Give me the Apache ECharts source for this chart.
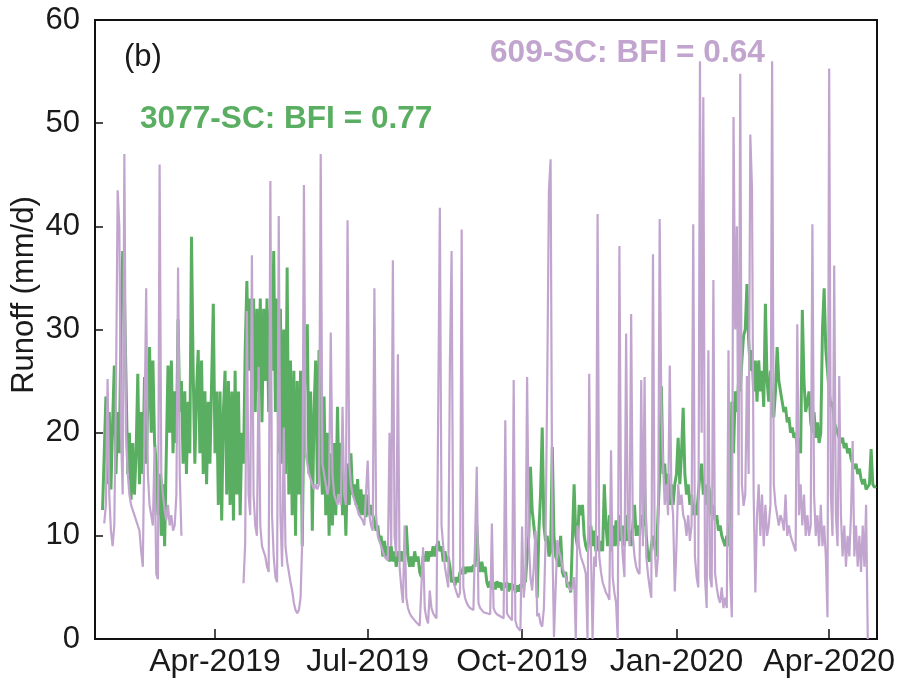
<!DOCTYPE html>
<html>
<head>
<meta charset="utf-8">
<script src="https://cdn.jsdelivr.net/npm/echarts@6.0.0/dist/echarts.min.js"></script>
<style>
  html, body { margin: 0; padding: 0; background: #fff; }
  #Runoff { width: 899px; height: 679px; }
</style>
</head>
<body>
<div id="Runoff"></div>
<script>
// daily runoff (mm/d), day 0 = 24 Jan 2019
let startDay = [2019, 0, 24];

let green3077 = [
  12.5, 18, 23.5, 15, 22, 14.5, 21, 26.5, 16, 22,
  18, 30, 37.6, 33.8, 25, 16, 20, 13.5, 19, 14,
  18, 25.7, 15, 22, 16, 25.4, 17, 23, 28.3, 20,
  27, 19, 17, 12, 16, 10, 15, 9, 18, 26.5,
  20, 27, 18, 24, 19, 31, 22, 25, 17, 24,
  16, 23, 18, 39, 26, 17, 24, 28, 18, 27,
  16, 24, 15, 23, 17, 25, 32.5, 18, 24, 13,
  24, 11.5, 22, 26, 14, 25, 13, 24, 11.5, 26,
  14, 24, 12, 20, 17, 28, 34.7, 26, 33, 25,
  33, 22, 32, 24, 33, 21, 32, 25, 33, 22,
  32, 26, 37.6, 22, 33, 18, 32, 17, 30, 16,
  36, 14, 27, 12, 26, 10, 25, 14, 26, 9,
  22, 27, 30.5, 16, 24, 10.5, 22, 27, 15, 28,
  18, 14, 23.5, 12, 20, 10, 18, 11, 19, 12,
  22.5, 14, 19, 12, 16, 10, 17, 13, 18, 14,
  15, 13, 15.5, 12, 14.5, 12, 14, 11.8, 14, 12,
  13, 12, 11.5, 10.5, 11, 9.5, 10, 8, 9.5, 8,
  9, 7.5, 9, 7.5, 8.5, 7, 8.5, 7.5, 8.5, 7.5,
  8, 11, 8, 7, 8, 7, 8.5, 7.5, 8, 6.5,
  6, 8, 7.5, 8.5, 7.5, 8.5, 8, 9, 8, 9,
  9.5, 8.5, 9, 7.5, 8.5, 7.5, 8, 7, 5.5, 6,
  5.2, 6, 5.5, 6.5, 6.3, 7, 6.3, 7, 6.5, 7,
  6.5, 7.2, 7, 11, 7.5, 6.5, 7.5, 6.5, 7, 5.5,
  5, 5.6, 4.8, 5.5, 4.8, 5.6, 5, 5.5, 4.7, 5.4,
  5, 5.5, 4.6, 5.4, 4.8, 5.3, 4.5, 5.2, 4.6, 5.3,
  5, 6, 5.5, 8, 10, 16.7, 12.5, 11, 9.5, 4,
  10.4, 14, 20.5, 11, 9.5, 10, 8, 8.5, 18.6, 10,
  8, 7.5, 7, 10, 6.5, 6, 6.5, 5, 5.5, 4.5,
  4.4, 15, 10, 9, 13, 12, 13, 10, 9, 8.5,
  10, 11, 9, 10.5, 8.5, 10, 8.5, 9.5, 8.5, 15,
  11, 9, 12, 8.5, 11, 9, 11.5, 9, 12, 9.5,
  11, 9, 12, 9.5, 10.5, 9, 11, 13, 10, 11,
  10, 12, 11, 14.5, 10, 8, 7.5, 9, 10, 9,
  8, 12, 16, 24.5, 16, 17, 14, 16, 13, 15,
  13, 15, 16, 19.5, 15, 18, 22.4, 16, 14, 15,
  13, 14, 12, 13, 12, 14, 16, 17, 14, 15,
  13, 15, 14, 12, 13, 11.5, 12, 10.5, 11, 10,
  9.5, 9, 10, 9, 12, 23, 18, 24, 22, 25,
  24, 27, 29.4, 30, 34.4, 29, 26, 28, 24, 27,
  23, 27, 24, 26, 22.5, 32.5, 25, 23, 26, 22,
  21.5, 24, 28.3, 25, 24, 23, 22, 22.5, 21, 21.5,
  20, 20.5, 19.5, 20, 18.5, 19.5, 18, 31.9, 25, 22,
  22, 24, 21, 20, 22, 19.5, 21, 19, 20, 30,
  34, 28, 26, 24, 22.5, 23, 21, 20.5, 20, 20,
  19, 19.5, 18.5, 19, 18, 18.5, 17.5, 17.5, 16.5, 17,
  16, 16.5, 15.5, 15, 15.5, 14.5, 14.5, 15, 18.4, 15,
  14.7, 14.8
];

let purple609 = [
  null, 11.2, 13, 25.2, 14, 10.5, 9, 11, 24, 43.5,
  40, 20, 14, 47, 20, 16, 14, 13, 12.5, 12,
  11.5, 11, 10.5, 8.5, 7, 7, 34, 16, 13, 12,
  11, 18.6, 6.3, 5.8, 46, 16, 14, 12.5, 11.5, 13,
  11, 12, 10.5, 11, 14, 36, 16, 10, null, null,
  null, null, null, null, null, null, null, null, null, null,
  null, null, null, null, null, null, null, null, null, null,
  null, null, null, null, null, null, null, null, null, null,
  null, null, null, null, 5.4, 9.3, 31.8, 14, 12, 37.2,
  14, 11, 10, 26.4, 11, 9, 8.5, 8, 7, 6.5,
  44.4, 12, 8, 6, 5.5, 41, 12, 7, 20.5, 9,
  7.5, 6.5, 5.5, 4.7, 3.5, 2.8, 2.5, 2.8, 4, 9.6,
  44, 18, 17, 16, 15.5, 15, 14.5, 15, 14.5, 15,
  47, 17, 16, 15, 14, 15, 29.7, 16, 14, 13.5,
  13, 14, 13, 22.5, 14, 13, 40.6, 17, 15, 14,
  13.5, 13, 12.5, 12, 12, 11.5, 11, 11, 17.3, 12,
  11, 10.5, 34, 12, 10, 9.5, 9, 8.5, 8, 8,
  7.6, 20, 9, 36.7, 10, 8, 27.6, 7, 5, 3.5,
  11, 4, 3, 2.5, 2.2, 2, 1.8, 1.6, 1.5, 1.3,
  1.3, 8.9, 3, 2, 1.5, 4.7, 3, 2.5, 2.2, 2,
  2, 41.8, 11, 9, 7, 6, 5, 27, 37.6, 6,
  5, 4.5, 4, 4.5, 39.7, 5, 4, 3.5, 3.2, 3,
  3, 2.8, 2.8, 16.7, 3.5, 3, 2.8, 2.6, 2.5, 2.5,
  2.5, 2.4, 11.2, 3, 2.6, 2.4, 2.3, 2.2, 2.2, 2,
  21.2, 2.5, 2.2, 2, 1.8, 25.1, 1.8, 1.2, 1, 0.8,
  10.9, 4, 6, 25.4, 9.6, 6, 4.7, 7, 10.5, 2.2,
  2.5, 1.5, 1.2, 3, 9.6, 25, 43.5, 46.5, 10, 0.2,
  0.3, 9.6, 8.5, 8, 7, 6.5, 6, 5.5, 5, 4.7,
  5, 6, 0, 11, 9, 8, 7.5, 7, 6.3, 0,
  25.7, 9, 0, 8, 7, 41.2, 8, 6.5, 5.5, 5,
  4.5, 4.2, 3.8, 18.3, 6, 4.5, 3.5, 0, 38.1, 11,
  8, 6, 29.6, 11, 9, 31.5, 10, 8, 7, 6.5,
  6.3, 25.1, 9, 25.4, 8, 6.3, 5, 4, 37.3, 9,
  6, 8, 40.7, 22, 17, 13, 15, 12, 26.5, 14,
  12, 4.6, 9, 15, 13, 14, 12, 11.5, 10, 12,
  9.5, 11, 40.2, 8, 6, 5, 56, 20, 52.5, 6,
  3, 28, 6, 5, 34.8, 6.4, 5, 4, 3.5, 5,
  3, 4, 3, 28, 6, 2.1, 50.6, 30, 40, 12,
  54.8, 15, 12.9, 14, 25.5, 16, 48.9, 43.8, 14, 4.5,
  12, 15, 10, 14, 9, 13, 10, 11, 13, 56,
  15, 13, 12, 11, 12, 11.5, 10.5, 14, 10, 11,
  10, 9.5, 9, 8.5, 30.5, 12, 15, 11, 14, 10,
  12, 10, 11, 40.2, 14, 10, 12, 9, 13, 9,
  11, 8, 2.1, 55.3, 14, 10, 36.2, 12, 9, 25.5,
  12, 8, 11, 7, 10, 8, 12, 19.2, 8, 11,
  7, 10, 6.5, 11, 7, 13, 0, null, null, null,
  null, null
];

let tickDates = [[2019, 3, 1], [2019, 6, 1], [2019, 9, 1], [2020, 0, 1], [2020, 3, 1]];
let tickLabels = ["Apr-2019", "Jul-2019", "Oct-2019", "Jan-2020", "Apr-2020"];
let axisStart = [2019, 0, 19, 12];
let axisEnd = [2020, 3, 29, 12];
let yTicks = [0, 10, 20, 30, 40, 50, 60];

let greenName = "3077-SC: BFI = 0.77";
let purpleName = "609-SC: BFI = 0.64";

// x is measured in days since startDay
let t0 = Date.UTC(startDay[0], startDay[1], startDay[2]);
function dayOf(y, m, d, h) {
  return (Date.UTC(y, m, d, h || 0) - t0) / 86400000;
}
function toPairs(arr) {
  let out = [];
  for (let i = 0; i < arr.length; i++) {
    out.push([i, arr[i]]);
  }
  return out;
}
let tickDays = tickDates.map(d => dayOf(d[0], d[1], d[2]));

let font = '"Liberation Sans", Arial, Helvetica, sans-serif';
let GREEN = "#5aae61";
let PURPLE = "#c2a5cf";

let chart = echarts.init(document.getElementById("Runoff"));
let option = {
  animation: false,
  backgroundColor: "#fff",
  grid: {
    left: 95,
    right: 22,
    top: 20,
    bottom: 40,
    show: true,
    borderColor: "#111",
    borderWidth: 2
  },
  xAxis: {
    type: "value",
    min: dayOf(axisStart[0], axisStart[1], axisStart[2], axisStart[3]),
    max: dayOf(axisEnd[0], axisEnd[1], axisEnd[2], axisEnd[3]),
    axisLine: { show: true, onZero: false, lineStyle: { color: "#111", width: 2 } },
    axisTick: {
      show: true,
      inside: true,
      length: 10,
      customValues: tickDays,
      lineStyle: { color: "#111", width: 1.5 }
    },
    axisLabel: {
      customValues: tickDays,
      margin: 7,
      color: "#1a1a1a",
      fontSize: 32,
      fontFamily: font,
      formatter: function(val) {
        for (let k = 0; k < tickDays.length; k++) {
          if (Math.abs(tickDays[k] - val) < 0.01) return tickLabels[k];
        }
        return "";
      }
    },
    splitLine: { show: false }
  },
  yAxis: {
    type: "value",
    min: yTicks[0],
    max: yTicks[yTicks.length - 1],
    interval: 10,
    axisLine: { show: true, onZero: false, lineStyle: { color: "#111", width: 2 } },
    axisTick: {
      show: true,
      inside: true,
      length: 8,
      lineStyle: { color: "#111", width: 1.5 }
    },
    axisLabel: {
      margin: 15,
      color: "#1a1a1a",
      fontSize: 31,
      fontFamily: font
    },
    splitLine: { show: false }
  },
  graphic: [
    {
      type: "text",
      x: 24,
      y: 295,
      rotation: Math.PI / 2,
      style: {
        text: "Runoff (mm/d)",
        font: "31px " + font,
        fill: "#1a1a1a",
        align: "center",
        verticalAlign: "middle"
      }
    },
    {
      type: "text",
      x: 124,
      y: 57,
      style: {
        text: "(b)",
        font: "31px " + font,
        fill: "#1a1a1a",
        align: "left",
        verticalAlign: "middle"
      }
    },
    {
      type: "text",
      x: 140,
      y: 119,
      z: 100,
      style: {
        text: greenName,
        font: "bold 31.6px " + font,
        fill: GREEN,
        align: "left",
        verticalAlign: "middle"
      }
    },
    {
      type: "text",
      x: 490,
      y: 53,
      z: 100,
      style: {
        text: purpleName,
        font: "bold 31.6px " + font,
        fill: PURPLE,
        align: "left",
        verticalAlign: "middle"
      }
    }
  ],
  series: [
    {
      name: greenName,
      type: "line",
      showSymbol: false,
      data: toPairs(green3077),
      lineStyle: { color: GREEN, width: 3 },
      itemStyle: { color: GREEN },
      z: 2
    },
    {
      name: purpleName,
      type: "line",
      showSymbol: false,
      data: toPairs(purple609),
      lineStyle: { color: PURPLE, width: 2.2 },
      itemStyle: { color: PURPLE },
      z: 3
    }
  ]
};
chart.setOption(option);
</script>
</body>
</html>
